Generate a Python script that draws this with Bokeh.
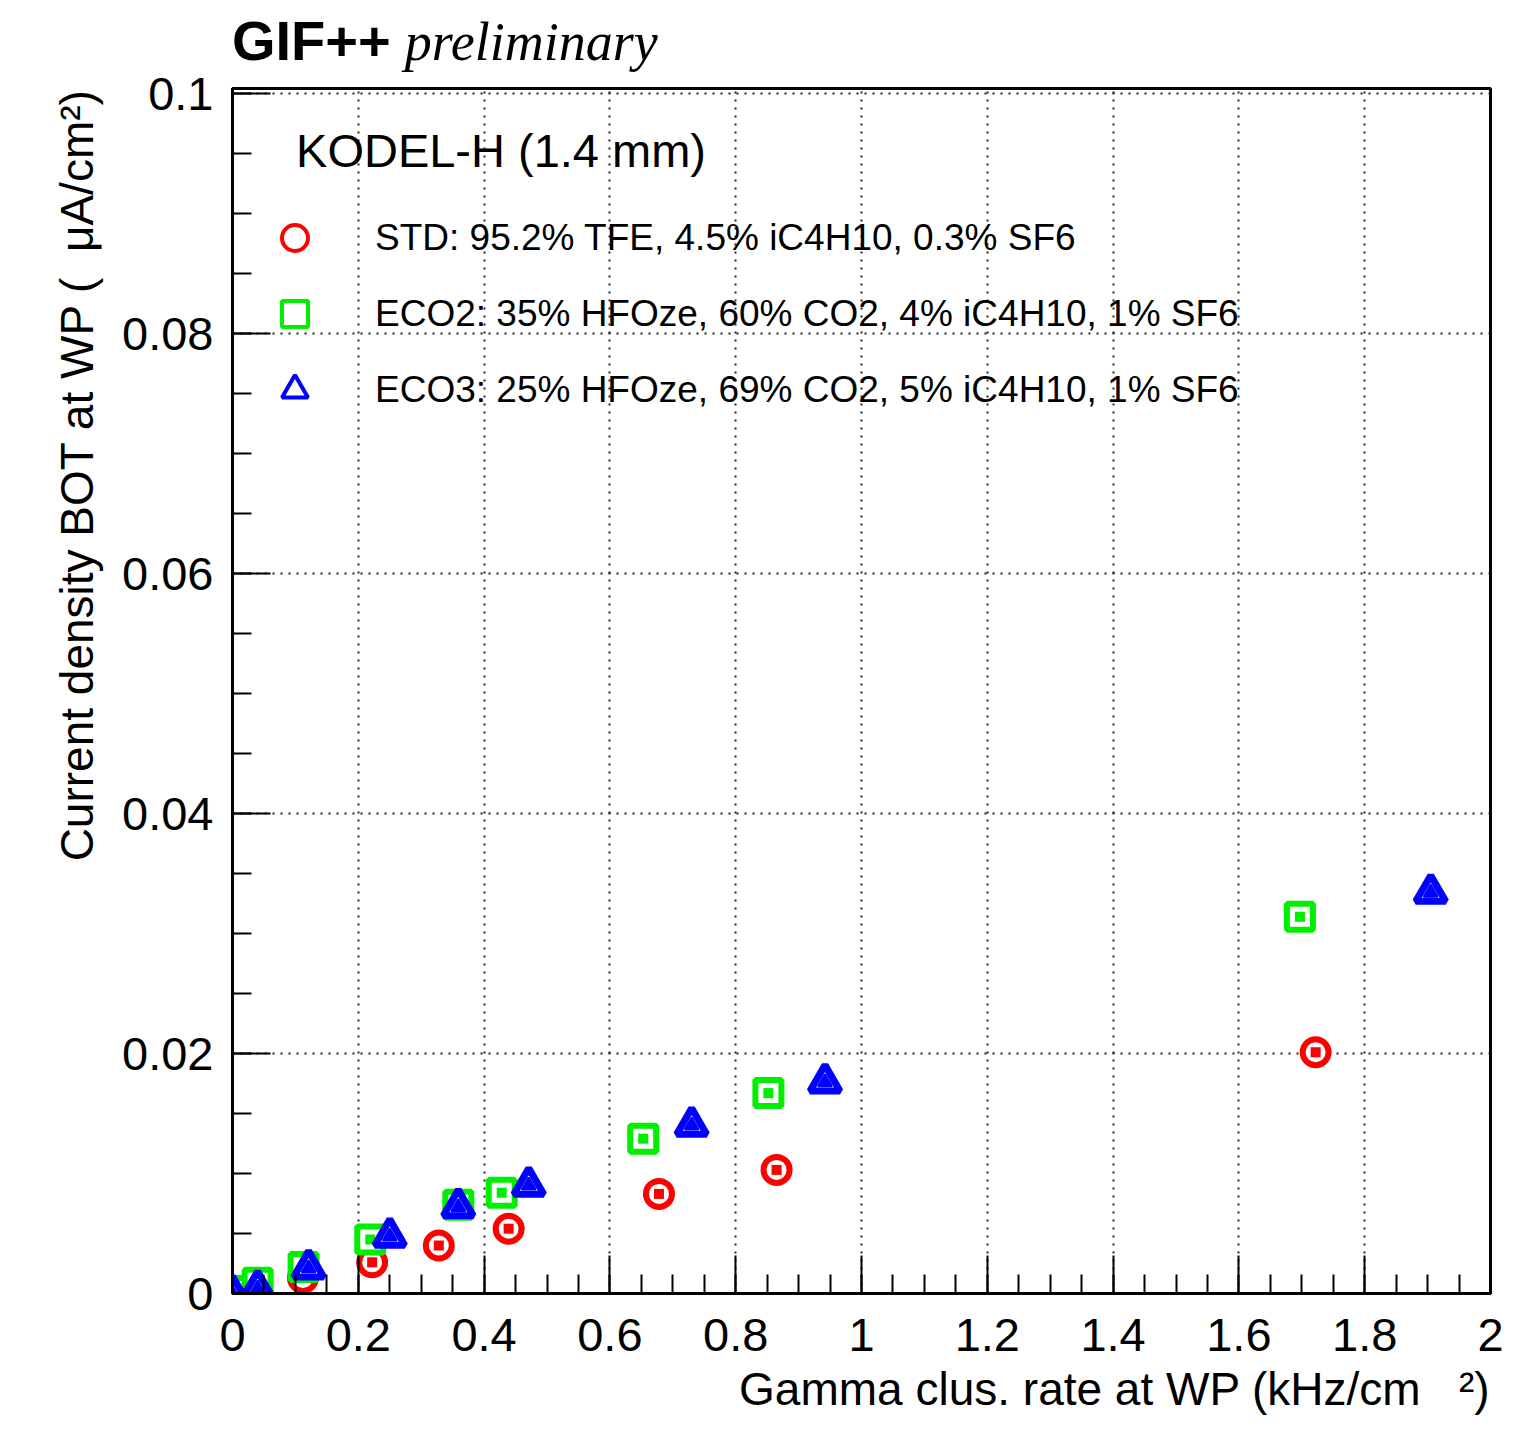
from bokeh.plotting import figure
from bokeh.models import (Range1d, FixedTicker, CustomJSTickFormatter, Label,
                          Legend, LegendItem, Div, Title)
from bokeh.layouts import column
from bokeh.embed import file_html
from bokeh.resources import INLINE

# ---- data ----
std_x = [0.0, 0.035, 0.112, 0.222, 0.328, 0.439, 0.678, 0.865, 1.722]
std_y = [0.0001, 0.0003, 0.0013, 0.0026, 0.0040, 0.0054, 0.0083, 0.0103, 0.0201]
eco2_x = [0.0, 0.040, 0.113, 0.219, 0.359, 0.428, 0.653, 0.852, 1.697]
eco2_y = [0.0002, 0.0009, 0.0022, 0.0045, 0.0074, 0.0084, 0.0129, 0.0167, 0.0314]
eco3_x = [0.0, 0.040, 0.121, 0.250, 0.359, 0.471, 0.730, 0.942, 1.905]
eco3_y = [0.0, 0.0004, 0.0021, 0.00475, 0.0072, 0.0090, 0.0140, 0.0176, 0.0334]

x_ticks = [0, 0.2, 0.4, 0.6, 0.8, 1.0, 1.2, 1.4, 1.6, 1.8, 2.0]
x_minor = [i * 0.05 for i in range(41)]
y_ticks = [0, 0.02, 0.04, 0.06, 0.08, 0.1]
y_minor = [i * 0.005 for i in range(21)]

labels = ["STD: 95.2% TFE, 4.5% iC4H10, 0.3% SF6",
          "ECO2: 35% HFOze, 60% CO2, 4% iC4H10, 1% SF6",
          "ECO3: 25% HFOze, 69% CO2, 5% iC4H10, 1% SF6"]
colors = ["#ff0000", "#00ee00", "#0000ff"]
NB = "\u00a0"
x_title = "Gamma clus. rate at WP (kHz/cm" + NB * 3 + "\u00b2)"
y_title = "Current density BOT at WP (" + NB * 2 + "\u03bcA/cm\u00b2)"

FONT = "Liberation Sans"
DIV_H = 62
BOTTOM = 138

p = figure(width=1508, height=1293 - DIV_H + BOTTOM, output_backend="svg",
           toolbar_location=None, tools="",
           x_range=Range1d(0, 2), y_range=Range1d(0, 0.100417),
           min_border_left=232, min_border_top=88 - DIV_H, min_border_right=18,
           min_border_bottom=BOTTOM)
p.background_fill_color = "white"
p.border_fill_alpha = 0
p.outline_line_color = "black"
p.outline_line_width = 3

fmt = CustomJSTickFormatter(code="return Number(tick.toFixed(4)).toString();")
for ax, tk, mn in ((p.xaxis[0], x_ticks, x_minor), (p.yaxis[0], y_ticks, y_minor)):
    ax.ticker = FixedTicker(ticks=tk, minor_ticks=mn)
    ax.formatter = fmt
    ax.major_tick_in = 38
    ax.major_tick_out = 0
    ax.minor_tick_in = 19
    ax.minor_tick_out = 0
    ax.major_tick_line_width = 2
    ax.minor_tick_line_width = 2
    ax.major_tick_line_color = "black"
    ax.minor_tick_line_color = "black"
    ax.axis_line_width = 3
    ax.axis_line_color = "black"
    ax.major_label_text_font = FONT
    ax.major_label_text_font_size = "47px"
    ax.major_label_text_color = "black"

p.xaxis[0].major_label_standoff = 25
p.yaxis[0].major_label_standoff = 19

# axis titles (ROOT style: aligned to the end of the axis)
p.add_layout(Title(text=x_title, align="right", text_font=FONT,
                   text_font_size="46px", text_font_style="normal",
                   text_color="black", standoff=14), "below")
p.add_layout(Title(text=y_title, align="right", text_font=FONT,
                   text_font_size="46px", text_font_style="normal",
                   text_color="black", standoff=33), "left")

p.xgrid.ticker = FixedTicker(ticks=x_ticks)
p.ygrid.ticker = FixedTicker(ticks=y_ticks)
for g in (p.xgrid[0], p.ygrid[0]):
    g.grid_line_color = "#222222"
    g.grid_line_width = 2
    g.grid_line_dash = "2 6"

# ---- data markers ----
markers = ["circle", "square", "triangle"]
sizes = [26, 26, 30]
widths = [6, 6, 7]
series = [(std_x, std_y), (eco2_x, eco2_y), (eco3_x, eco3_y)]
items = []
for (xs, ys), m, c, s, w, lab in zip(series, markers, colors, sizes, widths, labels):
    # thinner copy used for the legend glyph (hidden under the data marker)
    leg_r = p.scatter(xs, ys, marker=m, size=s if m != "triangle" else 26,
                      line_color=c, line_width=4, fill_alpha=0)
    items.append(LegendItem(label=lab, renderers=[leg_r]))
    p.scatter(xs, ys, marker=m, size=s, line_color=c, line_width=w,
              fill_color="white")
    if m != "triangle":
        p.scatter(xs, ys, marker="square", size=10, line_color=c, fill_color=c,
                  line_width=0)
    else:
        p.scatter(xs, ys, marker="triangle", size=14, line_color=c,
                  fill_color=c, line_width=2)

leg = Legend(items=items, location=(30, 871), padding=0, margin=0,
             glyph_width=65, glyph_height=65, label_height=65,
             spacing=11, label_standoff=48,
             label_text_font=FONT, label_text_font_size="37px",
             label_text_color="black", label_text_baseline="middle",
             border_line_alpha=0, background_fill_alpha=0)
p.add_layout(leg)

p.add_layout(Label(x=0.101, y=0.09525, text="KODEL-H (1.4 mm)",
                   text_font=FONT, text_font_size="47px",
                   text_baseline="middle", text_color="black"))

# ---- header ----
header = Div(
    text=("<span style=\"font-family:'Liberation Sans';font-weight:bold;"
          "font-size:56px;color:black\">GIF++</span>"
          "<span style=\"font-family:'Liberation Serif';font-style:italic;"
          "font-size:54px;color:black;margin-left:14px\">preliminary</span>"),
    width=1508, height=DIV_H,
    styles={"padding-left": "232px", "padding-top": "13px",
            "line-height": "1", "margin": "0", "box-sizing": "border-box",
            "overflow": "visible"})

layout = column(header, p, spacing=0)
open("out.html", "w").write(file_html(layout, INLINE))
